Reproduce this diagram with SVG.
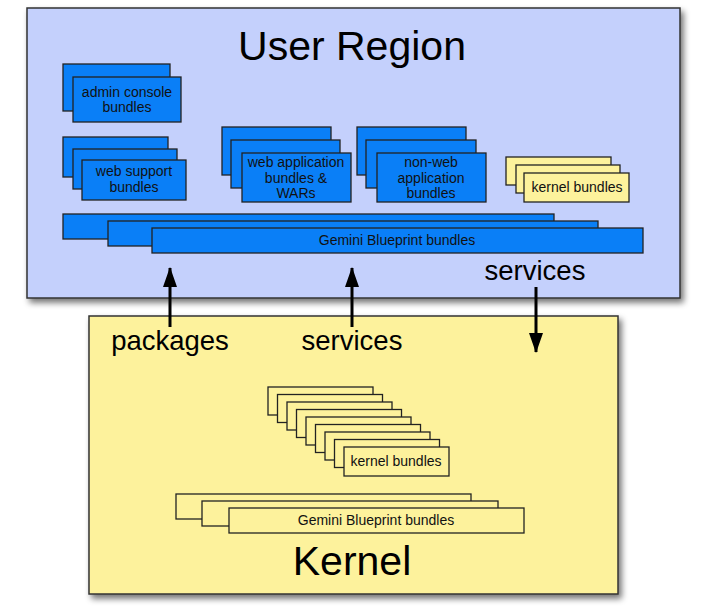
<svg xmlns="http://www.w3.org/2000/svg" width="704" height="608" viewBox="0 0 704 608">
<style>
.region{stroke:#333;stroke-width:1.5}
.user{fill:#c4d0fc}
.kern{fill:#fdf29c}
.b{fill:#0a7ff7;stroke:#222;stroke-width:1.3}
.y{fill:#fdf29c;stroke:#222;stroke-width:1.3}
text{font-family:"Liberation Sans",Arial,sans-serif;fill:#111;text-anchor:middle}
.t{font-size:14px}
.big{font-size:41px;fill:#000}
.lab{font-size:27.5px;fill:#000}
.arr{stroke:#000;stroke-width:3;fill:none}
</style>
<defs>
<filter id="sh" x="-5%" y="-5%" width="115%" height="115%">
<feGaussianBlur in="SourceAlpha" stdDeviation="3"/>
<feOffset dx="3" dy="4" result="o"/>
<feComponentTransfer><feFuncA type="linear" slope="0.55"/></feComponentTransfer>
<feMerge><feMergeNode/><feMergeNode in="SourceGraphic"/></feMerge>
</filter>
<marker id="ah" viewBox="0 0 20 14" refX="19" refY="7" markerWidth="20" markerHeight="14" markerUnits="userSpaceOnUse" orient="auto">
<path d="M0,0 L20,7 L0,14 z" fill="#000"/>
</marker>
</defs>
<rect fill="#fff" width="704" height="608"/>

<g id="user-region">
<rect class="region user" x="27" y="8" width="653" height="290" filter="url(#sh)"/>
<text class="big" x="352" y="60">User Region</text>
</g>

<g id="kernel-region">
<rect class="region kern" x="89" y="316" width="529" height="278" filter="url(#sh)"/>
<text class="big" x="352" y="575">Kernel</text>
</g>

<g id="admin-console">
<rect class="b" x="63" y="64" width="107" height="47"/>
<rect class="b" x="73" y="77" width="108" height="45"/>
<text class="t" x="127" y="97">admin console</text>
<text class="t" x="127" y="112">bundles</text>
</g>

<g id="web-support">
<rect class="b" x="63" y="137" width="105" height="40"/>
<rect class="b" x="73" y="149" width="104" height="40"/>
<rect class="b" x="82" y="160" width="104" height="40"/>
<text class="t" x="134" y="176">web support</text>
<text class="t" x="134" y="192">bundles</text>
</g>

<g id="web-app">
<rect class="b" x="222" y="127" width="109" height="48"/>
<rect class="b" x="231" y="140" width="109" height="48"/>
<rect class="b" x="242" y="153" width="109" height="49"/>
<text class="t" x="296" y="167">web application</text>
<text class="t" x="296" y="183">bundles &amp;</text>
<text class="t" x="296" y="198">WARs</text>
</g>

<g id="non-web-app">
<rect class="b" x="357" y="127" width="109" height="48"/>
<rect class="b" x="366" y="140" width="110" height="48"/>
<rect class="b" x="377" y="153" width="109" height="49"/>
<text class="t" x="431" y="167">non-web</text>
<text class="t" x="431" y="183">application</text>
<text class="t" x="431" y="198">bundles</text>
</g>

<g id="user-kernel-bundles">
<rect class="y" x="506" y="157" width="105" height="28"/>
<rect class="y" x="516" y="165" width="104" height="28"/>
<rect class="y" x="524" y="173" width="105" height="29"/>
<text class="t" x="577" y="192">kernel bundles</text>
</g>

<g id="user-gemini">
<rect class="b" x="63" y="214" width="491" height="25"/>
<rect class="b" x="108" y="221" width="490" height="25"/>
<rect class="b" x="152" y="228" width="491" height="25"/>
<text class="t" x="397" y="245">Gemini Blueprint bundles</text>
</g>

<g id="kernel-bundles">
<rect class="y" x="268" y="387" width="105" height="28"/>
<rect class="y" x="277.5" y="394.5" width="105" height="28"/>
<rect class="y" x="287" y="402" width="105" height="28"/>
<rect class="y" x="296.5" y="409.5" width="105" height="28"/>
<rect class="y" x="306" y="417" width="105" height="28"/>
<rect class="y" x="315.5" y="424.5" width="105" height="28"/>
<rect class="y" x="325" y="432" width="105" height="28"/>
<rect class="y" x="334.5" y="439.5" width="105" height="28"/>
<rect class="y" x="344" y="447" width="105" height="29"/>
<text class="t" x="396" y="466">kernel bundles</text>
</g>

<g id="kernel-gemini">
<rect class="y" x="176" y="494" width="295" height="25"/>
<rect class="y" x="202" y="501" width="296" height="25"/>
<rect class="y" x="229" y="508" width="295" height="25"/>
<text class="t" x="376" y="525">Gemini Blueprint bundles</text>
</g>

<g id="connectors">
<line class="arr" x1="170" y1="327" x2="170" y2="268" marker-end="url(#ah)"/>
<line class="arr" x1="352" y1="327" x2="352" y2="268" marker-end="url(#ah)"/>
<line class="arr" x1="536" y1="287" x2="536" y2="352" marker-end="url(#ah)"/>
<text class="lab" x="170" y="350">packages</text>
<text class="lab" x="352" y="350">services</text>
<text class="lab" x="535" y="280">services</text>
</g>
</svg>
